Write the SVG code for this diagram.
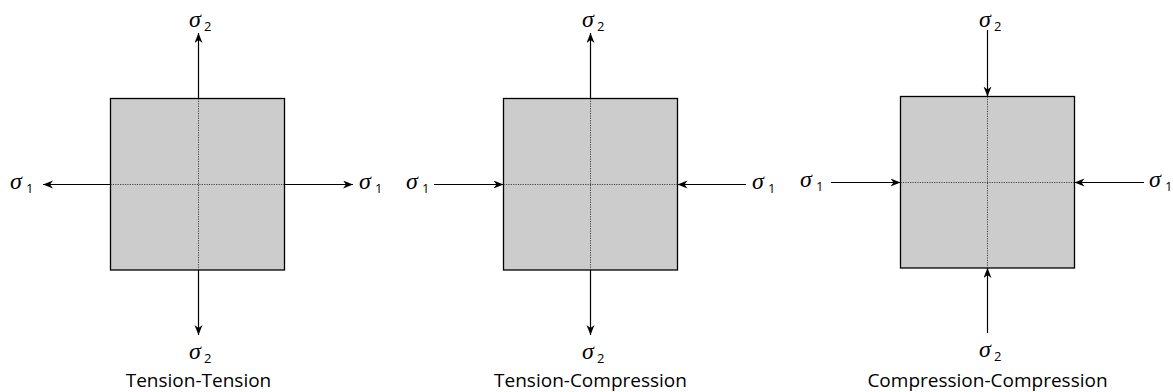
<svg xmlns="http://www.w3.org/2000/svg" width="1173" height="392" viewBox="0 0 1173 392">
<style>
.sq{fill:#cccccc;stroke:#000;stroke-width:1.3}
.dot{stroke:#333;stroke-width:0.9;stroke-dasharray:1.2 1.2;fill:none}
.ar{stroke:#000;stroke-width:1.2;fill:none;marker-end:url(#ah)}
.sig{font-family:"Liberation Serif",serif;font-style:italic;font-size:24px;fill:#000}
.sub{font-family:"Open Sans",sans-serif;font-size:13px;fill:#000}
.ttl{font-family:"Open Sans",sans-serif;font-size:19px;fill:#000;text-anchor:middle}
</style>
<defs>
<marker id="ah" markerUnits="userSpaceOnUse" markerWidth="11" markerHeight="9" refX="10" refY="4" orient="auto">
<path d="M0,0 L10,4 L0,8 L3,4 z" fill="#000"/>
</marker>
</defs>
<rect width="1173" height="392" fill="#fff"/>

<g id="tension-tension">
<rect class="sq" x="110.5" y="98.5" width="174" height="171.5"/>
<line class="dot" x1="110.5" y1="184.5" x2="284.5" y2="184.5"/>
<line class="dot" x1="198.5" y1="98.5" x2="198.5" y2="270"/>
<text class="ttl" x="198.5" y="387">Tension-Tension</text>
<text class="sig" x="189" y="27">σ</text><text class="sub" x="204" y="31">2</text>
<text class="sig" x="189" y="359">σ</text><text class="sub" x="204" y="363">2</text>
<text class="sig" x="10" y="189">σ</text><text class="sub" x="26" y="193">1</text>
<text class="sig" x="359" y="189">σ</text><text class="sub" x="375" y="193">1</text>
</g>

<g id="tension-compression">
<rect class="sq" x="503.5" y="98.5" width="174" height="171.5"/>
<line class="dot" x1="503.5" y1="184.5" x2="677.5" y2="184.5"/>
<line class="dot" x1="590.5" y1="98.5" x2="590.5" y2="270"/>
<text class="ttl" x="590.5" y="387">Tension-Compression</text>
<text class="sig" x="582" y="27">σ</text><text class="sub" x="597" y="31">2</text>
<text class="sig" x="582" y="359">σ</text><text class="sub" x="597" y="363">2</text>
<text class="sig" x="406" y="189">σ</text><text class="sub" x="422" y="193">1</text>
<text class="sig" x="752" y="189">σ</text><text class="sub" x="768" y="193">1</text>
</g>

<g id="compression-compression">
<rect class="sq" x="900.5" y="96.5" width="174" height="171.5"/>
<line class="dot" x1="900.5" y1="182.5" x2="1074.5" y2="182.5"/>
<line class="dot" x1="987.5" y1="96.5" x2="987.5" y2="268"/>
<text class="ttl" x="987.5" y="387">Compression-Compression</text>
<text class="sig" x="979" y="27">σ</text><text class="sub" x="994" y="31">2</text>
<text class="sig" x="979" y="357">σ</text><text class="sub" x="994" y="361">2</text>
<text class="sig" x="800" y="187">σ</text><text class="sub" x="816" y="191">1</text>
<text class="sig" x="1149" y="187">σ</text><text class="sub" x="1165" y="191">1</text>
</g>

<g id="connectors">
<line class="ar" x1="198.5" y1="98.5" x2="198.5" y2="33"/>
<line class="ar" x1="198.5" y1="270" x2="198.5" y2="335"/>
<line class="ar" x1="110.5" y1="184.5" x2="43" y2="184.5"/>
<line class="ar" x1="284.5" y1="184.5" x2="353" y2="184.5"/>

<line class="ar" x1="590.5" y1="98.5" x2="590.5" y2="33"/>
<line class="ar" x1="590.5" y1="270" x2="590.5" y2="335"/>
<line class="ar" x1="434" y1="184.5" x2="503.5" y2="184.5"/>
<line class="ar" x1="746" y1="184.5" x2="677.5" y2="184.5"/>

<line class="ar" x1="987.5" y1="30" x2="987.5" y2="96.5"/>
<line class="ar" x1="987.5" y1="333" x2="987.5" y2="268"/>
<line class="ar" x1="831" y1="182.5" x2="900.5" y2="182.5"/>
<line class="ar" x1="1144" y1="182.5" x2="1074.5" y2="182.5"/>
</g>
</svg>
